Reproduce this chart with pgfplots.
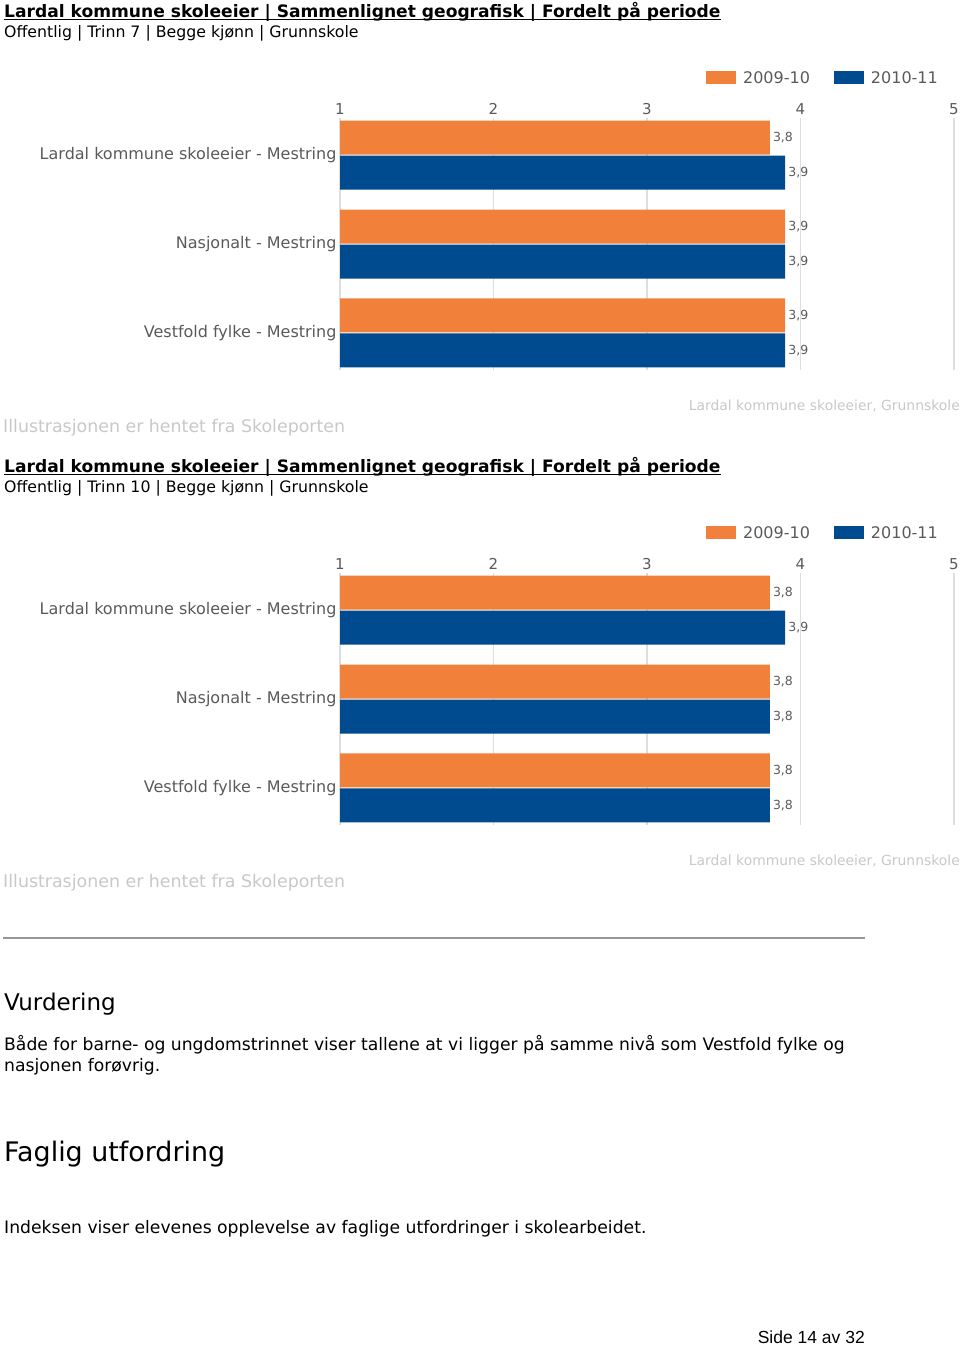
\documentclass[border=0pt]{standalone}
\usepackage{fontspec}
\setmainfont{DejaVu Sans}
\newfontfamily\arialfont{Liberation Sans}
\usepackage{pgfplots}
\pgfplotsset{compat=1.18}

\definecolor{orangeC}{RGB}{241,129,58}
\definecolor{blueC}{RGB}{0,74,143}
\definecolor{gridC}{RGB}{222,222,222}
\definecolor{labC}{RGB}{90,90,90}
\definecolor{footC}{RGB}{200,200,200}
\definecolor{ruleC}{RGB}{150,150,150}

% one chart: 3 groups, top group at y=2
\pgfplotsset{
  skchart/.style={
    xbar, scale only axis,
    width=614pt, height=252pt,
    xmin=1, xmax=5, ymin=-0.416, ymax=2.416,
    axis line style={draw=none},
    major tick length=0pt,
    xtick={1,2,3,4,5},
    xticklabel pos=upper,
    xmajorgrids, grid style={gridC, line width=1.2pt},
    ytick={0,1,2},
    yticklabels={Vestfold fylke - Mestring, Nasjonalt - Mestring, Lardal kommune skoleeier - Mestring},
    tick label style={text=labC, font=\fontsize{15}{15}\selectfont},
    yticklabel style={font=\fontsize{16}{16}\selectfont},
    /pgf/number format/assume math mode=true,
    /pgf/number format/use comma,
    bar width=34pt,
    nodes near coords,
    nodes near coords style={font=\fontsize{12.5}{13}\selectfont, text=labC, anchor=west, inner sep=3pt},
    legend style={draw=none, fill=none, at={(0.596,1.159)}, anchor=west,
      legend columns=-1, font=\fontsize{16}{16}\selectfont, text=labC, inner sep=0pt,
      nodes={inner sep=0pt},
      /tikz/every odd column/.append style={column sep=7pt},
      /tikz/every even column/.append style={column sep=24pt}},
    legend image code/.code={\fill[##1] (0pt,-6.5pt) rectangle (30pt,6.5pt);},
  }
}

\begin{document}
\begin{tikzpicture}
\useasboundingbox (0pt,0pt) rectangle (960pt,-1347pt);

% ---------- chart 1: Trinn 7 ----------
\node[anchor=base west, inner sep=0pt] (t1) at (4pt,-17pt)
  {\fontsize{17.1}{19}\bfseries\selectfont Lardal kommune skoleeier | Sammenlignet geografisk | Fordelt på periode};
\draw[line width=1.4pt] ([yshift=-2.5pt]t1.base west) -- ([yshift=-2.5pt]t1.base east);
\node[anchor=base west, inner sep=0pt] at (4pt,-37pt)
  {\fontsize{15.75}{18}\selectfont Offentlig | Trinn 7 | Begge kjønn | Grunnskole};

\begin{axis}[skchart, at={(340pt,-370pt)}, anchor=south west]
  \addplot[fill=orangeC, draw=none, bar shift=17.5pt]
    coordinates {(3.8,2) (3.9,1) (3.9,0)};
  \addplot[fill=blueC, draw=none, bar shift=-17.5pt]
    coordinates {(3.9,2) (3.9,1) (3.9,0)};
  \legend{2009-10, 2010-11}
\end{axis}

\node[anchor=base east, inner sep=0pt, text=footC] at (960pt,-410pt)
  {\fontsize{13.9}{14}\selectfont Lardal kommune skoleeier, Grunnskole};
\node[anchor=base west, inner sep=0pt, text=footC] at (3pt,-432pt)
  {\fontsize{17.4}{18}\selectfont Illustrasjonen er hentet fra Skoleporten};

% ---------- chart 2: Trinn 10 ----------
\node[anchor=base west, inner sep=0pt] (t2) at (4pt,-472pt)
  {\fontsize{17.1}{19}\bfseries\selectfont Lardal kommune skoleeier | Sammenlignet geografisk | Fordelt på periode};
\draw[line width=1.4pt] ([yshift=-2.5pt]t2.base west) -- ([yshift=-2.5pt]t2.base east);
\node[anchor=base west, inner sep=0pt] at (4pt,-492pt)
  {\fontsize{15.75}{18}\selectfont Offentlig | Trinn 10 | Begge kjønn | Grunnskole};

\begin{axis}[skchart, at={(340pt,-825pt)}, anchor=south west]
  \addplot[fill=orangeC, draw=none, bar shift=17.5pt]
    coordinates {(3.8,2) (3.8,1) (3.8,0)};
  \addplot[fill=blueC, draw=none, bar shift=-17.5pt]
    coordinates {(3.9,2) (3.8,1) (3.8,0)};
  \legend{2009-10, 2010-11}
\end{axis}

\node[anchor=base east, inner sep=0pt, text=footC] at (960pt,-865pt)
  {\fontsize{13.9}{14}\selectfont Lardal kommune skoleeier, Grunnskole};
\node[anchor=base west, inner sep=0pt, text=footC] at (3pt,-887pt)
  {\fontsize{17.4}{18}\selectfont Illustrasjonen er hentet fra Skoleporten};

% ---------- text below ----------
\draw[ruleC, line width=1.5pt] (3pt,-938pt) -- (865pt,-938pt);
\node[anchor=base west, inner sep=0pt] at (4pt,-1010pt)
  {\fontsize{23}{26}\selectfont Vurdering};
\node[anchor=base west, inner sep=0pt] at (4pt,-1050pt)
  {\fontsize{17.2}{19}\selectfont Både for barne- og ungdomstrinnet viser tallene at vi ligger på samme nivå som Vestfold fylke og};
\node[anchor=base west, inner sep=0pt] at (4pt,-1071pt)
  {\fontsize{17.2}{19}\selectfont nasjonen forøvrig.};
\node[anchor=base west, inner sep=0pt] at (4pt,-1161pt)
  {\fontsize{26.9}{30}\selectfont Faglig utfordring};
\node[anchor=base west, inner sep=0pt] at (4pt,-1233pt)
  {\fontsize{17.2}{19}\selectfont Indeksen viser elevenes opplevelse av faglige utfordringer i skolearbeidet.};
\node[anchor=base east, inner sep=0pt] at (865pt,-1343pt)
  {\arialfont\fontsize{17.5}{20}\selectfont Side 14 av 32};
\end{tikzpicture}
\end{document}
